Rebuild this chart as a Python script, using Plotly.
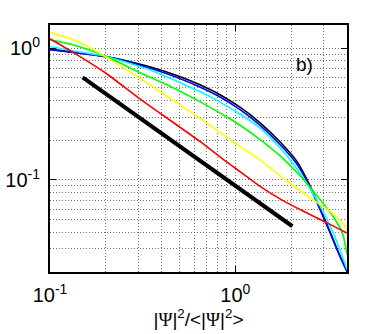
import plotly.graph_objects as go
import numpy as np

# curves (x = |Psi|^2/<|Psi|^2>, y = value)
x_black = [0.1, 0.2, 0.33, 0.5, 0.63, 0.8, 1.064, 1.365, 1.75, 2.155, 2.54, 2.88, 3.26, 3.61, 4.0]
y_black = [0.98, 0.865, 0.735, 0.61, 0.535, 0.455, 0.355, 0.27, 0.193, 0.137, 0.089, 0.0593, 0.0395, 0.0279, 0.0203]

x_blue = [0.1, 0.2, 0.33, 0.5, 0.63, 0.8, 1.064, 1.365, 1.75, 2.155, 2.54, 2.88, 3.26, 3.61, 4.0]
y_blue = [0.975, 0.86, 0.72, 0.59, 0.515, 0.437, 0.34, 0.258, 0.184, 0.131, 0.087, 0.0585, 0.039, 0.0276, 0.0201]

x_cyan = [0.1, 0.142, 0.2, 0.33, 0.5, 0.63, 0.8, 1.064, 1.365, 1.75, 2.11, 2.49, 2.94, 3.37, 3.72, 4.0]
y_cyan = [1.03, 0.94, 0.865, 0.70, 0.55, 0.475, 0.40, 0.315, 0.246, 0.174, 0.126, 0.089, 0.0593, 0.0395, 0.0279, 0.0209]

x_green = [0.1, 0.137, 0.2, 0.3, 0.45, 0.647, 0.92, 1.064, 1.365, 1.75, 2.245, 2.54, 3.0, 3.4, 3.78, 4.0]
y_green = [1.157, 1.05, 0.87, 0.66, 0.51, 0.391, 0.295, 0.259, 0.2017, 0.1516, 0.107, 0.0873, 0.0655, 0.0516, 0.0395, 0.0271]

x_yellow = [0.1, 0.142, 0.2, 0.3, 0.43, 0.608, 1.0, 1.365, 1.75, 2.1, 2.65, 3.26, 3.69, 3.93, 4.0]
y_yellow = [1.32, 1.12, 0.86, 0.60, 0.43, 0.31, 0.19, 0.141, 0.107, 0.088, 0.070, 0.0575, 0.049, 0.044, 0.0395]

x_red = [0.1, 0.134, 0.202, 0.3, 0.45, 0.647, 0.85, 1.064, 1.365, 1.75, 2.245, 2.88, 3.4, 4.0]
y_red = [1.18, 0.925, 0.64, 0.42, 0.28, 0.195, 0.145, 0.115, 0.089, 0.0715, 0.0593, 0.0499, 0.0444, 0.0395]

# reference power-law line
x_ref = [0.15, 2.03]
y_ref = [0.6, 0.0445]

x_ticks = [0.1, 1]
x_ticktext = ["10<sup>-1</sup>", "10<sup>0</sup>"]
y_ticks = [0.1, 1]
y_ticktext = ["10<sup>-1</sup>", "10<sup>0</sup>"]
x_minor = [0.2, 0.3, 0.4, 0.5, 0.6, 0.7, 0.8, 0.9, 2, 3]
y_minor = [0.02, 0.03, 0.04, 0.05, 0.06, 0.07, 0.08, 0.09,
           0.2, 0.3, 0.4, 0.5, 0.6, 0.7, 0.8, 0.9]

curves = [
    (x_black, y_black, "#000000"),
    (x_blue, y_blue, "#0000ff"),
    (x_cyan, y_cyan, "#00ffff"),
    (x_green, y_green, "#00ff00"),
    (x_yellow, y_yellow, "#ffff00"),
    (x_red, y_red, "#ff0000"),
]

fig = go.Figure()
for xs, ys, col in curves:
    fig.add_trace(go.Scatter(x=xs, y=ys, mode="lines", line_shape="spline",
                             line=dict(color=col, width=1.6, smoothing=0.6),
                             showlegend=False, hoverinfo="skip"))
fig.add_trace(go.Scatter(x=x_ref, y=y_ref, mode="lines",
                         line=dict(color="black", width=4),
                         showlegend=False, hoverinfo="skip"))

grid = dict(showgrid=True, gridcolor="#707070", griddash="1px,2px", gridwidth=1)
psi = "<span style='font-family:Liberation Serif'>Ψ</span>"

fig.update_xaxes(type="log", range=[np.log10(0.1), np.log10(4)], automargin=False,
                 tickmode="array", tickvals=x_ticks, ticktext=x_ticktext,
                 ticks="inside", ticklen=6, tickcolor="black",
                 showline=True, linecolor="black", linewidth=2, mirror="allticks",
                 zeroline=False, ticklabelstandoff=4,
                 minor=dict(tickmode="array", tickvals=x_minor, ticks="", **grid),
                 title=dict(text="|" + psi + "|<sup>2</sup>/&lt;|" + psi + "|<sup>2</sup>&gt;",
                            font=dict(size=19), standoff=2),
                 **grid)
fig.update_yaxes(type="log", range=[np.log10(0.02), np.log10(1.5)], automargin=False,
                 tickmode="array", tickvals=y_ticks, ticktext=y_ticktext,
                 ticks="inside", ticklen=6, tickcolor="black",
                 showline=True, linecolor="black", linewidth=2, mirror="allticks",
                 zeroline=False, ticklabelstandoff=4,
                 minor=dict(tickmode="array", tickvals=y_minor, ticks="", **grid),
                 **grid)

fig.add_annotation(x=np.log10(2.36), y=np.log10(0.753), xref="x", yref="y",
                   text="b)", showarrow=False, font=dict(size=19, color="black"))

fig.update_layout(
    width=383, height=334,
    margin=dict(l=50, r=36, t=25, b=62),
    paper_bgcolor="white", plot_bgcolor="white",
    font=dict(family="Liberation Sans, Arial, sans-serif", size=20, color="black"),
)

fig.write_html("out.html", config={"displayModeBar": False},
               post_script="document.body.style.margin='0px';")
